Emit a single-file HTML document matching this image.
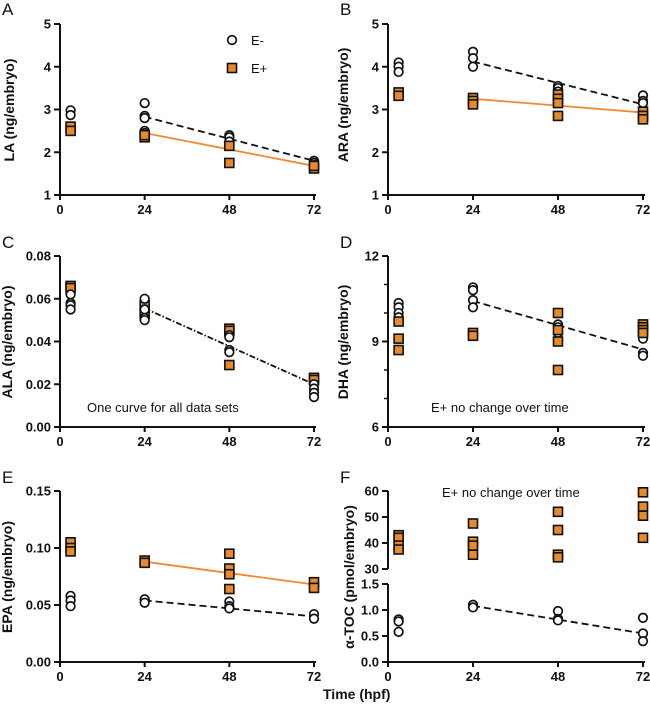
<!DOCTYPE html>
<html><head><meta charset="utf-8">
<style>
body{margin:0;background:#fff;}
svg{display:block;font-family:"Liberation Sans",Arial,sans-serif;}
.tick{font-size:13px;font-weight:bold;fill:#111;}
.ttl{font-size:14px;font-weight:bold;fill:#111;}
.let{font-size:17px;fill:#111;}
.note{font-size:13px;fill:#111;}
</style></head>
<body>
<svg id="chart" width="650" height="705" viewBox="0 0 650 705"></svg>
<script>
const timeTicks=[0,24,48,72];
// Panel A (LA)
const aNegT=[3,3,24,24,24,24,24,48,48,48,72,72,72];
const aNegV=[2.98,2.87,3.15,2.85,2.8,2.5,2.45,2.4,2.35,2.25,1.8,1.75,1.7];
const aPosT=[3,3,24,24,48,48,72,72];
const aPosV=[2.6,2.5,2.35,2.4,2.15,1.75,1.62,1.68];
const aNegFit=[2.83,1.8];
const aPosFit=[2.45,1.68];
const aTicks=[1,2,3,4,5];
// Panel B (ARA)
const bNegT=[3,3,3,24,24,24,48,48,48,48,72,72,72];
const bNegV=[4.1,4.0,3.88,4.35,4.2,4.0,3.55,3.5,3.42,3.35,3.33,3.2,3.15];
const bPosT=[3,3,24,24,24,48,48,48,48,72,72,72];
const bPosV=[3.4,3.32,3.27,3.2,3.12,3.35,3.25,3.15,2.85,2.95,2.85,2.77];
const bNegFit=[4.12,3.12];
const bPosFit=[3.25,2.93];
// Panel C (ALA)
const cPosT=[3,3,24,24,48,48,48,72,72];
const cPosV=[0.066,0.065,0.057,0.053,0.046,0.045,0.029,0.023,0.022];
const cNegT=[3,3,3,3,24,24,24,24,48,48,48,48,72,72,72,72];
const cNegV=[0.062,0.058,0.057,0.055,0.060,0.055,0.051,0.050,0.043,0.042,0.036,0.035,0.020,0.018,0.016,0.014];
const cAllFit=[0.0555,0.020];
const cTicks=[0,0.02,0.04,0.06,0.08];
// Panel D (DHA)
const dNegT=[3,3,3,3,24,24,24,24,48,48,48,72,72,72,72];
const dNegV=[10.35,10.2,10.0,9.85,10.9,10.8,10.45,10.2,9.6,9.5,9.3,9.2,9.1,8.6,8.5];
const dPosT=[3,3,3,24,24,48,48,48,48,72,72,72,72];
const dPosV=[9.7,9.1,8.7,9.3,9.2,10.0,9.4,9.0,8.0,9.6,9.5,9.4,9.3];
const dNegFit=[10.42,8.72];
const dTicks=[6,9,12];
const dMinor=[7,8,10,11];
// Panel E (EPA)
const ePosT=[3,3,3,24,24,48,48,48,48,72,72];
const ePosV=[0.105,0.1,0.097,0.089,0.087,0.095,0.082,0.077,0.064,0.07,0.065];
const eNegT=[3,3,3,24,24,48,48,48,72,72];
const eNegV=[0.058,0.054,0.049,0.055,0.052,0.053,0.049,0.047,0.042,0.038];
const ePosFit=[0.088,0.068];
const eNegFit=[0.054,0.040];
const eTicks=[0,0.05,0.10,0.15];
// Panel F (alpha-TOC)
const fPosT=[3,3,3,3,24,24,24,24,48,48,48,48,72,72,72,72];
const fPosV=[43,42,39,37.5,47.5,40.5,39,35.5,52,45,35.5,34.5,59.5,54,50.5,42];
const fNegT=[3,3,3,24,24,48,48,48,72,72,72];
const fNegV=[0.82,0.78,0.58,1.1,1.05,0.98,0.83,0.80,0.85,0.55,0.40];
const fNegFit=[1.08,0.55];
const fUpTicks=[30,40,50,60];
const fLowTicks=[0,0.5,1.0,1.5];

const NS="http://www.w3.org/2000/svg";
const svg=document.getElementById('chart');
const ORANGE="#E8892B";
function mk(tag,attrs,parent){const e=document.createElementNS(NS,tag);for(const k in attrs)e.setAttribute(k,attrs[k]);(parent||svg).appendChild(e);return e;}
function txt(s,x,y,cls,anchor,parent){const t=mk('text',{x:x,y:y,class:cls,'text-anchor':anchor||'start'},parent);t.textContent=s;return t;}

function panel(p){
  const g=mk('g',{});
  
  
  const X=t=>p.x0+(t/72)*(p.x1-p.x0);
  const Y=p.Y;
  const xa=mk('line',{x1:p.x0,y1:p.yb,x2:p.x1+2,y2:p.yb,stroke:'#111','stroke-width':2},g);
  
  
  timeTicks.forEach(t=>{
    mk('line',{x1:X(t),y1:p.yb,x2:X(t),y2:p.yb+5,stroke:'#111','stroke-width':2},g);
    const l=txt(String(t),X(t),p.yb+19,'tick','middle',g);
    
    
  });
  p.yaxes.forEach(a=>{
    const ya=mk('line',{x1:p.x0,y1:a.top,x2:p.x0,y2:a.bot,stroke:'#111','stroke-width':2},g);
    
    
  });
  p.ticks.forEach(v=>{
    const y=Y(v);
    mk('line',{x1:p.x0-6,y1:y,x2:p.x0,y2:y,stroke:'#111','stroke-width':2},g);
    const l=txt(p.fmt(v),p.x0-9,y+4.5,'tick','end',g);
    
    
  });
  (p.minor||[]).forEach(v=>{mk('line',{x1:p.x0-4,y1:Y(v),x2:p.x0,y2:Y(v),stroke:'#111','stroke-width':1.5},g);});
  const tt=txt(p.title,0,0,'ttl','middle',g);
  tt.setAttribute('transform','translate('+p.tx+','+p.ty+') rotate(-90)');
  
  
  const lt=txt(p.letter,p.lx,p.ly,'let','start',g);
  
  
  p.fits.forEach(f=>{
    const ln=mk('line',{x1:X(24),y1:Y(f.v[0]),x2:X(72),y2:Y(f.v[1]),stroke:f.c,'stroke-width':1.8,'stroke-dasharray':f.d||'none'},g);
    
    
  });
  p.series.forEach(s=>{
    s.t.forEach((t,i)=>{
      const x=X(t),y=Y(s.v[i]);
      let e;
      if(s.sq) e=mk('rect',{x:x-4.5,y:y-4.5,width:9,height:9,fill:ORANGE,stroke:'#111','stroke-width':1.6},g);
      else e=mk('circle',{cx:x,cy:y,r:4.3,fill:'#fff',stroke:'#111','stroke-width':1.7},g);
      
      
    });
  });
  return g;
}
function lin(v0,v1,p0,p1){return v=>p0+(v-v0)/(v1-v0)*(p1-p0);}

const row1={yt:24,yb:195},row2={yt:256,yb:427},row3={yt:491,yb:662};
const L={x0:60,x1:314},R={x0:388,x1:643};

panel({name:'panel-a-la',x0:L.x0,x1:L.x1,yb:row1.yb,Y:lin(1,5,row1.yb,row1.yt),yaxes:[{top:row1.yt,bot:row1.yb}],
 ticks:aTicks,fmt:v=>String(v),title:'LA (ng/embryo)',tx:14,ty:110,letter:'A',lx:2,ly:15,
 fits:[{v:aNegFit,c:'#111',d:'7 4',n:'fit-line-e-minus'},{v:aPosFit,c:'#F08A30',n:'fit-line-e-plus'}],
 series:[{t:aNegT,v:aNegV,n:'point-e-minus'},{t:aPosT,v:aPosV,sq:1,n:'point-e-plus'}]});
panel({name:'panel-b-ara',x0:R.x0,x1:R.x1,yb:row1.yb,Y:lin(1,5,row1.yb,row1.yt),yaxes:[{top:row1.yt,bot:row1.yb}],
 ticks:aTicks,fmt:v=>String(v),title:'ARA (ng/embryo)',tx:348,ty:105,letter:'B',lx:340,ly:15,
 fits:[{v:bNegFit,c:'#111',d:'7 4',n:'fit-line-e-minus'},{v:bPosFit,c:'#F08A30',n:'fit-line-e-plus'}],
 series:[{t:bNegT,v:bNegV,n:'point-e-minus'},{t:bPosT,v:bPosV,sq:1,n:'point-e-plus'}]});
panel({name:'panel-c-ala',x0:L.x0,x1:L.x1,yb:row2.yb,Y:lin(0,0.08,row2.yb,row2.yt),yaxes:[{top:row2.yt,bot:row2.yb}],
 ticks:cTicks,fmt:v=>v.toFixed(2),title:'ALA (ng/embryo)',tx:12,ty:342,letter:'C',lx:2,ly:248,
 fits:[{v:cAllFit,c:'#111',d:'6 2 1.5 2',n:'fit-line-all'}],
 series:[{t:cPosT,v:cPosV,sq:1,n:'point-e-plus'},{t:cNegT,v:cNegV,n:'point-e-minus'}]});
panel({name:'panel-d-dha',x0:R.x0,x1:R.x1,yb:row2.yb,Y:lin(6,12,row2.yb,row2.yt),yaxes:[{top:row2.yt,bot:row2.yb}],
 ticks:dTicks,minor:dMinor,fmt:v=>String(v),title:'DHA (ng/embryo)',tx:348,ty:342,letter:'D',lx:340,ly:248,
 fits:[{v:dNegFit,c:'#111',d:'7 4',n:'fit-line-e-minus'}],
 series:[{t:dNegT,v:dNegV,n:'point-e-minus'},{t:dPosT,v:dPosV,sq:1,n:'point-e-plus'}]});
panel({name:'panel-e-epa',x0:L.x0,x1:L.x1,yb:row3.yb,Y:lin(0,0.15,row3.yb,row3.yt),yaxes:[{top:row3.yt,bot:row3.yb}],
 ticks:eTicks,fmt:v=>v.toFixed(2),title:'EPA (ng/embryo)',tx:12,ty:577,letter:'E',lx:2,ly:483,
 fits:[{v:ePosFit,c:'#F08A30',n:'fit-line-e-plus'},{v:eNegFit,c:'#111',d:'7 4',n:'fit-line-e-minus'}],
 series:[{t:ePosT,v:ePosV,sq:1,n:'point-e-plus'},{t:eNegT,v:eNegV,n:'point-e-minus'}]});
const fUp=lin(30,60,569,491),fLow=lin(0,1.5,662,584);
panel({name:'panel-f-toc',x0:R.x0,x1:R.x1,yb:row3.yb,Y:v=>v>=20?fUp(v):fLow(v),yaxes:[{top:491,bot:569},{top:584,bot:662}],
 ticks:fUpTicks.concat(fLowTicks),fmt:v=>v>=20?String(v):v.toFixed(1),title:'α-TOC (pmol/embryo)',tx:354,ty:577,letter:'F',lx:340,ly:483,
 fits:[{v:fNegFit,c:'#111',d:'7 4',n:'fit-line-e-minus'}],
 series:[{t:fPosT,v:fPosV,sq:1,n:'point-e-plus'},{t:fNegT,v:fNegV,n:'point-e-minus'}]});

const lg=mk('g',{});


const lc=mk('circle',{cx:232,cy:40,r:4.3,fill:'#fff',stroke:'#111','stroke-width':1.7},lg);


const l1=txt('E-',251,45,'note','start',lg);


const ls=mk('rect',{x:227.5,y:63.5,width:9,height:9,fill:ORANGE,stroke:'#111','stroke-width':1.6},lg);


const l2=txt('E+',251,73,'note','start',lg);



const n1=txt('One curve for all data sets',87,412,'note','start');


const n2=txt('E+ no change over time',431,412,'note','start');


const n3=txt('E+ no change over time',442,497,'note','start');


const xt=txt('Time (hpf)',323,699,'ttl','start');


</script>
</body></html>
